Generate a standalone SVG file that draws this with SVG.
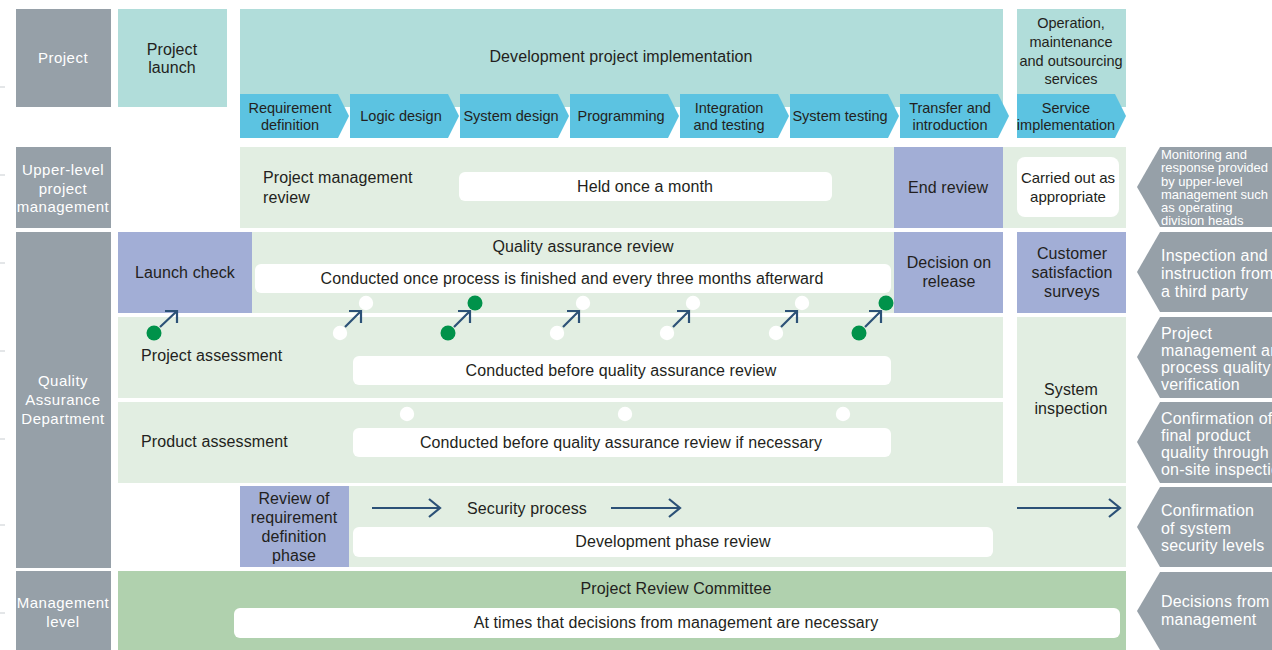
<svg xmlns="http://www.w3.org/2000/svg" width="1272" height="650" viewBox="0 0 1272 650">
<style>
.lab{fill:#96a0a8}
.teal{fill:#b1dddA}
.chev{fill:#5cc3e1}
.pale{fill:#e2eee2}
.purp{fill:#a2aed6}
.mg{fill:#b0d1ae}
.wb{fill:#ffffff}
text{font-family:"Liberation Sans",Arial,sans-serif;dominant-baseline:central}
.t{font-size:16px;fill:#231f20;text-anchor:middle;letter-spacing:0.1px}
.tl{font-size:16px;fill:#231f20;text-anchor:start;letter-spacing:0.1px}
.s{font-size:14.5px;fill:#231f20;text-anchor:middle}
.sm{font-size:15px;fill:#231f20;text-anchor:middle}
.g{font-size:15px;fill:#ffffff;text-anchor:middle;letter-spacing:0.5px}
.r{font-size:16px;fill:#ffffff;text-anchor:start;letter-spacing:0.2px}
.rs{font-size:13px;fill:#ffffff;text-anchor:start}
.ln{stroke:#2c5177;stroke-width:2.2;fill:none}
.dg{fill:#00924a}
.dw{fill:#ffffff}
.tick{stroke:#c8cdd1;stroke-width:1}
</style>
<defs>
<marker id="ah" markerWidth="14" markerHeight="22" refX="12" refY="10" orient="auto" markerUnits="userSpaceOnUse">
<path d="M1,1 L12,10 L1,19" fill="none" stroke="#2c5177" stroke-width="2.2"/>
</marker>
</defs>

<g id="edge-ticks">
<line class="tick" x1="0" y1="87" x2="5" y2="87"/>
<line class="tick" x1="0" y1="175" x2="5" y2="175"/>
<line class="tick" x1="0" y1="263" x2="5" y2="263"/>
<line class="tick" x1="0" y1="351" x2="5" y2="351"/>
<line class="tick" x1="0" y1="439" x2="5" y2="439"/>
<line class="tick" x1="0" y1="525" x2="5" y2="525"/>
<line class="tick" x1="0" y1="613" x2="5" y2="613"/>
</g>

<!-- Left labels -->
<g id="label-project"><rect class="lab" x="16" y="9" width="95" height="98"/><text class="g" x="63" y="57">Project</text></g>
<g id="label-upper"><rect class="lab" x="16" y="147" width="95" height="81"/>
<text class="g" x="63" y="169">Upper-level</text><text class="g" x="63" y="188">project</text><text class="g" x="63" y="206">management</text></g>
<g id="label-qa"><rect class="lab" x="16" y="232" width="95" height="336"/>
<text class="g" x="63" y="380">Quality</text><text class="g" x="63" y="399">Assurance</text><text class="g" x="63" y="418">Department</text></g>
<g id="label-mgmt"><rect class="lab" x="16" y="571" width="95" height="79"/>
<text class="g" x="63" y="602">Management</text><text class="g" x="63" y="621">level</text></g>

<!-- Row 1 -->
<g id="project-launch"><rect class="teal" x="118" y="9" width="109" height="98"/>
<text class="t" x="172" y="49">Project</text><text class="t" x="172" y="67">launch</text></g>
<g id="dev-impl"><rect class="teal" x="240" y="9" width="763" height="98"/>
<text class="t" x="621" y="56">Development project implementation</text></g>
<g id="operation"><rect class="teal" x="1017" y="9" width="109" height="98"/>
<text class="s" x="1071" y="23">Operation,</text><text class="s" x="1071" y="42">maintenance</text><text class="s" x="1071" y="61">and outsourcing</text><text class="s" x="1071" y="79">services</text></g>

<g id="phase-req"><polygon class="chev" points="240,94 338,94 349,116 338,138 240,138"/>
<text class="s" x="290" y="108">Requirement</text><text class="s" x="290" y="125">definition</text></g>
<g id="phase-logic"><polygon class="chev" points="350,94 448,94 459,116 448,138 350,138"/>
<text class="s" x="401" y="116">Logic design</text></g>
<g id="phase-sysdesign"><polygon class="chev" points="460,94 558,94 569,116 558,138 460,138"/>
<text class="s" x="511" y="116">System design</text></g>
<g id="phase-prog"><polygon class="chev" points="570,94 668,94 679,116 668,138 570,138"/>
<text class="s" x="621" y="116">Programming</text></g>
<g id="phase-integ"><polygon class="chev" points="680,94 778,94 789,116 778,138 680,138"/>
<text class="s" x="729" y="108">Integration</text><text class="s" x="729" y="125">and testing</text></g>
<g id="phase-systest"><polygon class="chev" points="790,94 888,94 899,116 888,138 790,138"/>
<text class="s" x="840" y="116">System testing</text></g>
<g id="phase-transfer"><polygon class="chev" points="900,94 998,94 1009,116 998,138 900,138"/>
<text class="s" x="950" y="108">Transfer and</text><text class="s" x="950" y="125">introduction</text></g>
<g id="phase-service"><polygon class="chev" points="1017,94 1115,94 1126,116 1115,138 1017,138"/>
<text class="s" x="1066" y="108">Service</text><text class="s" x="1066" y="125">implementation</text></g>

<!-- Row 2 -->
<g id="pm-review"><rect class="pale" x="240" y="147" width="886" height="81"/>
<text class="tl" x="263" y="177">Project management</text><text class="tl" x="263" y="197">review</text>
<rect class="wb" x="459" y="172" width="373" height="29" rx="6"/>
<text class="t" x="645" y="186">Held once a month</text></g>
<g id="end-review"><rect class="purp" x="894" y="147" width="109" height="81"/>
<text class="t" x="948" y="187">End review</text></g>
<g id="carried-out"><rect class="wb" x="1017" y="157" width="102" height="60" rx="8"/>
<text class="sm" x="1068" y="177">Carried out as</text><text class="sm" x="1068" y="196">appropriate</text></g>

<!-- QA review -->
<g id="qa-review"><rect class="pale" x="252" y="232" width="651" height="81"/>
<text class="t" x="583" y="246">Quality assurance review</text>
<rect class="wb" x="255" y="264" width="636" height="29" rx="6"/>
<text class="t" x="572" y="278">Conducted once process is finished and every three months afterward</text></g>
<g id="launch-check"><rect class="purp" x="118" y="232" width="134" height="81"/>
<text class="t" x="185" y="272">Launch check</text></g>
<g id="decision-release"><rect class="purp" x="894" y="232" width="109" height="81"/>
<text class="t" x="949" y="262">Decision on</text><text class="t" x="949" y="281">release</text></g>
<g id="customer-surveys"><rect class="purp" x="1017" y="232" width="109" height="81"/>
<text class="t" x="1072" y="253">Customer</text><text class="t" x="1072" y="272">satisfaction</text><text class="t" x="1072" y="291">surveys</text></g>

<!-- Project assessment -->
<g id="project-assessment"><rect class="pale" x="118" y="317" width="885" height="81"/>
<text class="tl" x="141" y="355">Project assessment</text>
<rect class="wb" x="353" y="356" width="538" height="29" rx="6"/>
<text class="t" x="621" y="370">Conducted before quality assurance review</text></g>
<g id="product-assessment"><rect class="pale" x="118" y="402" width="885" height="81"/>
<text class="tl" x="141" y="441">Product assessment</text>
<rect class="wb" x="353" y="428" width="538" height="29" rx="6"/>
<text class="t" x="621" y="442">Conducted before quality assurance review if necessary</text></g>
<g id="system-inspection"><rect class="pale" x="1017" y="317" width="109" height="166"/>
<text class="t" x="1071" y="389">System</text><text class="t" x="1071" y="408">inspection</text></g>

<!-- Security row -->
<g id="security-process"><rect class="pale" x="349" y="486" width="777" height="81"/>
<text class="t" x="527" y="508">Security process</text>
<rect class="wb" x="353" y="527" width="640" height="30" rx="6"/>
<text class="t" x="673" y="541">Development phase review</text></g>
<g id="review-req"><rect class="purp" x="240" y="486" width="109" height="81"/>
<text class="t" x="294" y="498">Review of</text><text class="t" x="294" y="517">requirement</text><text class="t" x="294" y="536">definition</text><text class="t" x="294" y="555">phase</text></g>

<!-- Management -->
<g id="review-committee"><rect class="mg" x="118" y="571" width="1008" height="79"/>
<text class="t" x="676" y="588">Project Review Committee</text>
<rect class="wb" x="234" y="608" width="886" height="30" rx="6"/>
<text class="t" x="676" y="622">At times that decisions from management are necessary</text></g>

<!-- Right side -->
<g id="side-1"><polygon class="lab" points="1160,147 1272,147 1272,227 1160,227 1137,187"/>
<text class="rs" x="1161" y="154">Monitoring and</text><text class="rs" x="1161" y="167">response provided</text><text class="rs" x="1161" y="181">by upper-level</text><text class="rs" x="1161" y="194">management such</text><text class="rs" x="1161" y="207">as operating</text><text class="rs" x="1161" y="220">division heads</text></g>
<g id="side-2"><polygon class="lab" points="1160,232 1272,232 1272,312 1160,312 1137,272"/>
<text class="r" x="1161" y="255">Inspection and</text><text class="r" x="1161" y="273">instruction from</text><text class="r" x="1161" y="291">a third party</text></g>
<g id="side-3"><polygon class="lab" points="1160,317 1272,317 1272,398 1160,398 1137,357"/>
<text class="r" x="1161" y="333">Project</text><text class="r" x="1161" y="350">management and</text><text class="r" x="1161" y="367">process quality</text><text class="r" x="1161" y="384">verification</text></g>
<g id="side-4"><polygon class="lab" points="1160,402 1272,402 1272,483 1160,483 1137,442"/>
<text class="r" x="1161" y="418">Confirmation of</text><text class="r" x="1161" y="435">final product</text><text class="r" x="1161" y="452">quality through</text><text class="r" x="1161" y="469">on-site inspection</text></g>
<g id="side-5"><polygon class="lab" points="1160,487 1272,487 1272,567 1160,567 1137,527"/>
<text class="r" x="1161" y="510">Confirmation</text><text class="r" x="1161" y="528">of system</text><text class="r" x="1161" y="545">security levels</text></g>
<g id="side-6"><polygon class="lab" points="1160,572 1272,572 1272,650 1160,650 1137,611"/>
<text class="r" x="1161" y="601">Decisions from</text><text class="r" x="1161" y="619">management</text></g>

<!-- Dots -->
<g id="dots">
<circle class="dg" cx="154" cy="333" r="7.5"/>
<circle class="dw" cx="340" cy="333" r="7.2"/><circle class="dw" cx="366" cy="303" r="7.2"/>
<circle class="dg" cx="448" cy="333" r="7.5"/><circle class="dg" cx="475" cy="303" r="7.5"/>
<circle class="dw" cx="557" cy="333" r="7.2"/><circle class="dw" cx="583" cy="303" r="7.2"/>
<circle class="dw" cx="667" cy="333" r="7.2"/><circle class="dw" cx="693" cy="303" r="7.2"/>
<circle class="dw" cx="776" cy="333" r="7.2"/><circle class="dw" cx="802" cy="303" r="7.2"/>
<circle class="dg" cx="859" cy="333" r="7.5"/><circle class="dg" cx="886" cy="303" r="7.5"/>
<circle class="dw" cx="407" cy="414" r="7.2"/><circle class="dw" cx="625" cy="414" r="7.2"/><circle class="dw" cx="843" cy="414" r="7.2"/>
</g>

<!-- Connectors -->
<g id="connectors">
<path class="ln" d="M160,327 L177,311 M165,311 L177,311 L177,323"/>
<path class="ln" d="M345,327 L361,311 M349,311 L361,311 L361,323"/>
<path class="ln" d="M454,327 L470,311 M458,311 L470,311 L470,323"/>
<path class="ln" d="M563,327 L579,311 M567,311 L579,311 L579,323"/>
<path class="ln" d="M673,327 L689,311 M677,311 L689,311 L689,323"/>
<path class="ln" d="M781,327 L797,311 M785,311 L797,311 L797,323"/>
<path class="ln" d="M865,327 L881,311 M869,311 L881,311 L881,323"/>
<line class="ln" x1="372" y1="508" x2="440" y2="508" marker-end="url(#ah)"/>
<line class="ln" x1="611" y1="508" x2="680" y2="508" marker-end="url(#ah)"/>
<line class="ln" x1="1017" y1="508" x2="1120" y2="508" marker-end="url(#ah)"/>
</g>
</svg>
